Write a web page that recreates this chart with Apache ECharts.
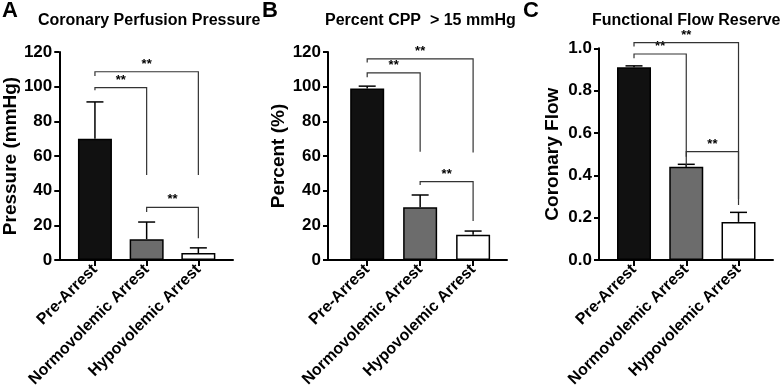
<!DOCTYPE html>
<html>
<head>
<meta charset="utf-8">
<script src="https://cdn.jsdelivr.net/npm/echarts@6/dist/echarts.min.js"></script>
<style>
  html, body { margin: 0; padding: 0; background: #fff; }
  #chart { width: 782px; height: 390px; }
</style>
</head>
<body>
<div id="chart"></div>
<script>
  // groups shown on every panel
  const groups = ["Pre-Arrest", "Normovolemic Arrest", "Hypovolemic Arrest"];
  const barColors = ["#111111", "#6c6c6c", "#ffffff"];

  // A: coronary perfusion pressure
  const pressureMean = [70, 12, 4];
  const pressureSd = [21.2, 9.9, 3];
  // [from, to, top, left leg end, right leg end]
  const pressureBrackets = [
    [0, 1, 99.5, 98, 49],
    [0, 2, 108.6, 106.2, 49],
    [1, 2, 30.4, 27.7, 12.5],
  ];

  // B: percent CPP > 15 mmHg
  const percentMean = [99, 30.5, 14.5];
  const percentSd = [1.3, 7, 2.2];
  const percentBrackets = [
    [0, 1, 108, 105.4, 62.5],
    [0, 2, 116, 114, 62],
    [1, 2, 45.2, 43.3, 22.5],
  ];

  // C: functional flow reserve
  const flowMean = [0.91, 0.44, 0.18];
  const flowSd = [0.007, 0.012, 0.045];
  const flowBrackets = [
    [0, 1, 0.973, 0.953, 0.287],
    [0, 2, 1.027, 1.008, 0.288],
    [1, 2, 0.512, 0.488, 0.26],
  ];

  const pressureTicks = { min: 0, max: 120, interval: 20 };
  const percentTicks = { min: 0, max: 120, interval: 20 };
  const flowTicks = { min: 0, max: 1, interval: 0.2 };

  const font = "Liberation Sans, Arial, sans-serif";
  const chart = echarts.init(document.getElementById("chart"));

  const panels = [
    { letter: "A", title: "Coronary Perfusion Pressure", yName: "Pressure (mmHg)",
      mean: pressureMean, sd: pressureSd, brackets: pressureBrackets, ticks: pressureTicks,
      grid: { left: 58, top: 52, width: 175, height: 208 }, xMin: -0.69, xMax: 2.67,
      letterLeft: 2, titleLeft: 38, nameGap: 39, digits: 0 },
    { letter: "B", title: "Percent CPP  > 15 mmHg", yName: "Percent (%)",
      mean: percentMean, sd: percentSd, brackets: percentBrackets, ticks: percentTicks,
      grid: { left: 328, top: 52, width: 179, height: 208 }, xMin: -0.74, xMax: 2.64,
      letterLeft: 262, titleLeft: 325, nameGap: 36, digits: 0 },
    { letter: "C", title: "Functional Flow Reserve", yName: "Coronary Flow",
      mean: flowMean, sd: flowSd, brackets: flowBrackets, ticks: flowTicks,
      grid: { left: 599, top: 48.3, width: 174, height: 211.7 }, xMin: -0.67, xMax: 2.66,
      letterLeft: 523, titleLeft: 592, nameGap: 37, digits: 1 },
  ];

  const titles = [];
  const grids = [];
  const xAxes = [];
  const yAxes = [];
  const series = [];

  panels.forEach((p, i) => {
    titles.push({
      text: p.letter, left: p.letterLeft, top: 0, padding: 0,
      textStyle: { fontFamily: font, fontSize: 22, fontWeight: "bold", color: "#000" },
    });
    titles.push({
      text: p.title, left: p.titleLeft, top: 13, padding: 0,
      textStyle: { fontFamily: font, fontSize: 16, fontWeight: "bold", color: "#000" },
    });
    grids.push(p.grid);
    xAxes.push({
      type: "value", gridIndex: i, min: p.xMin, max: p.xMax,
      splitLine: { show: false },
      axisLine: { onZero: false, lineStyle: { color: "#000", width: 2 } },
      axisTick: { customValues: [0, 1, 2], length: 6, lineStyle: { color: "#000", width: 2 } },
      axisLabel: {
        customValues: [0, 1, 2], rotate: 45, margin: 7,
        formatter: (v) => groups[Math.round(v)],
        fontFamily: font, fontSize: 16, fontWeight: "bold", color: "#000",
      },
    });
    yAxes.push({
      type: "value", gridIndex: i,
      min: p.ticks.min, max: p.ticks.max, interval: p.ticks.interval,
      name: p.yName, nameLocation: "middle", nameRotate: 90, nameGap: p.nameGap,
      nameTextStyle: { fontFamily: font, fontSize: 19, fontWeight: "bold", color: "#000" },
      splitLine: { show: false },
      axisLine: { show: true, onZero: false, lineStyle: { color: "#000", width: 2 } },
      axisTick: { show: true, length: 5, lineStyle: { color: "#000", width: 2 } },
      axisLabel: {
        margin: 7, fontFamily: font, fontSize: 17, fontWeight: "bold", color: "#000",
        formatter: (v) => v.toFixed(p.digits),
      },
    });

    series.push({
      type: "bar", xAxisIndex: i, yAxisIndex: i, barWidth: 34,
      data: p.mean.map((m, k) => ({
        value: [k, m],
        itemStyle: { color: barColors[k], borderColor: "#000", borderWidth: 1.5 },
      })),
      animation: false,
    });

    series.push({
      type: "custom", xAxisIndex: i, yAxisIndex: i, animation: false,
      data: p.mean.map((m, k) => [k, m, p.sd[k]]),
      renderItem: (params, api) => {
        const x = api.value(0), m = api.value(1), s = api.value(2);
        const a = api.coord([x, m]);
        const b = api.coord([x, m + s]);
        const style = { stroke: "#000", lineWidth: 1.5 };
        return {
          type: "group",
          children: [
            { type: "line", shape: { x1: a[0], y1: a[1], x2: b[0], y2: b[1] }, style },
            { type: "line", shape: { x1: b[0] - 8.5, y1: b[1], x2: b[0] + 8.5, y2: b[1] }, style },
          ],
        };
      },
    });

    series.push({
      type: "custom", xAxisIndex: i, yAxisIndex: i, animation: false,
      data: p.brackets,
      renderItem: (params, api) => {
        const f = api.value(0), t = api.value(1), top = api.value(2);
        const p1 = api.coord([f, api.value(3)]);
        const p2 = api.coord([f, top]);
        const p3 = api.coord([t, top]);
        const p4 = api.coord([t, api.value(4)]);
        const mid = api.coord([(f + t) / 2, top]);
        return {
          type: "group",
          children: [
            { type: "polyline", shape: { points: [p1, p2, p3, p4] },
              style: { stroke: "#333", lineWidth: 1.2, fill: null } },
            { type: "text", x: mid[0], y: mid[1] - 1,
              style: { text: "**", fontFamily: font, fontSize: 13, fontWeight: "bold",
                       fill: "#000", align: "center", verticalAlign: "bottom" } },
          ],
        };
      },
    });
  });

  chart.setOption({
    backgroundColor: "#fff",
    animation: false,
    title: titles,
    grid: grids,
    xAxis: xAxes,
    yAxis: yAxes,
    series: series,
  });
</script>
</body>
</html>
